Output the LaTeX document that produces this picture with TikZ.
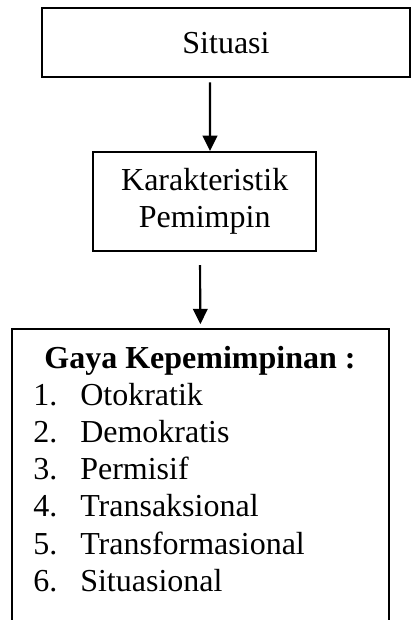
\documentclass[tikz,border=0pt]{standalone}
\usepackage{fontspec}
\setmainfont{Liberation Serif}
\usetikzlibrary{arrows.meta,positioning}
\tikzset{
  gkbox/.style={draw=black,line width=1.6pt,inner sep=0pt,align=center,
                font=\fontsize{24}{28}\selectfont},
  gkarrow/.style={-{Triangle[length=11.5pt,width=11pt]},line width=1.6pt},
  gktitle/.style={inner sep=0pt,anchor=base,
                  font=\fontsize{24}{28}\selectfont\bfseries},
  gklabel/.style={inner sep=0pt,anchor=base west,
                  font=\fontsize{24}{28}\selectfont}
}

\begin{document}
\begin{tikzpicture}[x=0.75pt,y=-0.75pt]
    \useasboundingbox (0,0) rectangle (412,620);
    \clip (0,0) rectangle (412,620);
    \node[gkbox,minimum width=276pt,minimum height=52pt] (situasi)
      at (226,42.75) {Situasi};
    \node[gkbox,minimum width=167pt,minimum height=74.25pt] (karakter)
      at (204.7,201.5) {Karakteristik\\Pemimpin};
    \node[gkbox,minimum width=282.6pt,minimum height=300pt] (gaya)
      at (200.4,529.2) {};

    \draw[gkarrow] ([xshift=-12pt,yshift=-3pt]situasi.south) --
      ([xshift=4pt]karakter.north);
    \draw[gkarrow] ([xshift=-3.5pt,yshift=-9.75pt]karakter.south) --
      ([yshift=3pt]gaya.north);

    \node[gktitle] (judul) at (200,368) {Gaya Kepemimpinan :};
    \foreach \nama [count=\i] in {Otokratik,Demokratis,Permisif,
      Transaksional,Transformasional,Situasional} {
      \node[gklabel] (no\i) at (33,{405+37.3*(\i-1)}) {\i.};
      \node[gklabel] (jenis\i) at (80,{405+37.3*(\i-1)}) {\nama};
    }
  \end{tikzpicture}
\end{document}
